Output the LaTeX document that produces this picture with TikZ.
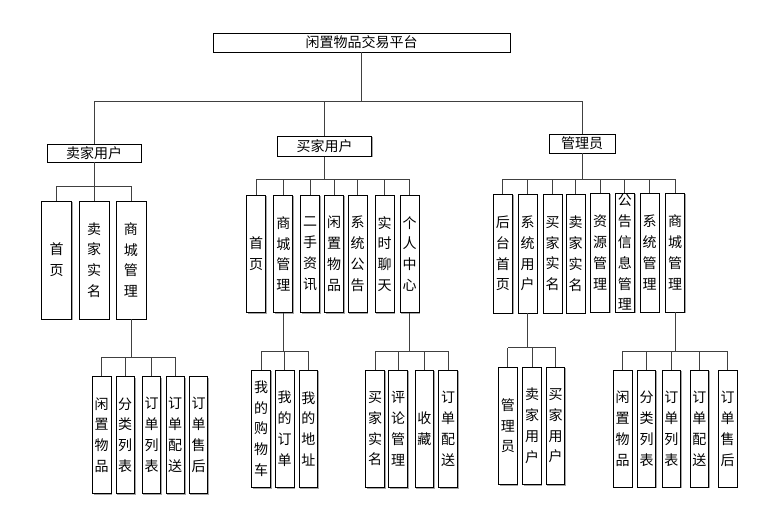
\documentclass[tikz,border=0pt]{standalone}
\usepackage{fontspec}
\setmainfont{Noto Sans CJK SC}
\usetikzlibrary{shadows}
\tikzset{
  box/.style={draw=black, line width=0.8pt, fill=white, inner sep=0pt,
    font=\fontsize{14}{20.8}\selectfont,
    drop shadow={shadow xshift=1.2pt, shadow yshift=-1.2pt, fill=gray!70, opacity=1}},
  vbox/.style={box, minimum width=19pt, minimum height=118pt, text width=14pt, align=center},
  wbox/.style={vbox, minimum width=30pt},
  link/.style={draw=black!75, line width=0.8pt}
}
\begin{document}
\begin{tikzpicture}[x=1pt, y=-1pt]
  \useasboundingbox (0,0) rectangle (766,510);
  % top level
  \node[box, minimum width=297pt, minimum height=19pt] (root) at (361.5,42.5) {闲置物品交易平台};
  \node[box, minimum width=94pt, minimum height=18pt] (seller) at (94,153) {卖家用户};
  \node[box, minimum width=94pt, minimum height=20pt] (buyer) at (324.5,146.3) {买家用户};
  \node[box, minimum width=66pt, minimum height=19pt] (admin) at (582,143.5) {管理员};
  \coordinate (topBus) at (361.5,101);
  \draw[link] (root) -- (topBus);
  \draw[link] (seller.north) |- (topBus);
  \draw[link] (admin.north) |- (topBus);
  \draw[link] (buyer.north) -- (buyer.north |- topBus);
  % seller modules
  \node[wbox] (sHome) at (56.7,260) {首\\页};
  \node[wbox] (sReal) at (94.2,260) {卖\\家\\实\\名};
  \node[wbox] (sMall) at (130.9,260) {商\\城\\管\\理};
  \coordinate (sBus) at (94,186.5);
  \draw[link] (seller) -- (sBus);
  \draw[link] (sHome.north |- sBus) -- (sMall.north |- sBus);
  \foreach \n in {sHome,sReal,sMall}
    \draw[link] (\n.north) -- (\n.north |- sBus);
  % seller mall
  \begin{scope}[every node/.style={vbox, minimum width=18.5pt, minimum height=116.6pt}]
    \node (smGoods) at (101.7,435) {闲\\置\\物\\品};
    \node (smType) at (125.2,435) {分\\类\\列\\表};
    \node (smOrder) at (151.5,435) {订\\单\\列\\表};
    \node (smShip) at (175.2,435) {订\\单\\配\\送};
    \node (smAfter) at (198.5,435) {订\\单\\售\\后};
  \end{scope}
  \coordinate (smBus) at (130.9,357.5);
  \draw[link] (sMall) -- (smBus);
  \draw[link] (smGoods.north |- smBus) -- (smShip.north |- smBus);
  \foreach \n in {smGoods,smType,smOrder,smShip}
    \draw[link] (\n.north) -- (\n.north |- smBus);
  % buyer modules
  \begin{scope}[every node/.style={vbox, minimum height=117.7pt}]
    \node (bHome) at (256.2,253.9) {首\\页};
    \node (bMall) at (283.3,253.9) {商\\城\\管\\理};
    \node (bNews) at (310.2,253.9) {二\\手\\资\\讯};
    \node (bGoods) at (334.2,253.9) {闲\\置\\物\\品};
    \node (bNotice) at (357.5,253.9) {系\\统\\公\\告};
    \node (bChat) at (384.5,253.9) {实\\时\\聊\\天};
    \node (bCenter) at (409.5,253.9) {个\\人\\中\\心};
  \end{scope}
  \coordinate (bBus) at (324.5,179.5);
  \draw[link] (buyer) -- (bBus);
  \draw[link] (bHome.north |- bBus) -- (bCenter.north |- bBus);
  \foreach \n in {bHome,bMall,bNews,bGoods,bNotice,bChat,bCenter}
    \draw[link] (\n.north) -- (\n.north |- bBus);
  % buyer mall and personal centre
  \begin{scope}[every node/.style={vbox, minimum width=18.7pt, minimum height=117.3pt}]
    \node (bmCart) at (261,428.7) {我\\的\\购\\物\\车};
    \node (bmOrder) at (284.7,428.7) {我\\的\\订\\单};
    \node (bmAddr) at (308.3,428.7) {我\\的\\地\\址};
    \node (bcReal) at (375,428.7) {买\\家\\实\\名};
    \node (bcReview) at (398.2,428.7) {评\\论\\管\\理};
    \node (bcFav) at (424.3,428.7) {收\\藏};
    \node (bcShip) at (448,428.7) {订\\单\\配\\送};
  \end{scope}
  \coordinate (bmBus) at (283.3,351);
  \draw[link] (bMall) -- (bmBus);
  \draw[link] (bmCart.north |- bmBus) -- (bmAddr.north |- bmBus);
  \foreach \n in {bmCart,bmOrder,bmAddr}
    \draw[link] (\n.north) -- (\n.north |- bmBus);
  \coordinate (bcBus) at (409.5,351);
  \draw[link] (bCenter) -- (bcBus);
  \draw[link] (bcReal.north |- bcBus) -- (bcShip.north |- bcBus);
  \foreach \n in {bcReal,bcReview,bcFav,bcShip}
    \draw[link] (\n.north) -- (\n.north |- bcBus);
  % admin modules
  \begin{scope}[every node/.style={vbox, minimum height=119pt}]
    \node (aHome) at (502.8,253.5) {后\\台\\首\\页};
    \node (aUser) at (527.5,253.5) {系\\统\\用\\户};
    \node (aBuyer) at (552.7,253.5) {买\\家\\实\\名};
    \node (aSeller) at (575.7,253.5) {卖\\家\\实\\名};
    \node (aRes) at (600,252.5) {资\\源\\管\\理};
    \node (aNotice) at (624.8,252.5) {公\\告\\信\\息\\管\\理};
    \node (aSys) at (649.5,252.5) {系\\统\\管\\理};
    \node (aMall) at (675.2,252.5) {商\\城\\管\\理};
  \end{scope}
  \coordinate (aBus) at (582,179.5);
  \draw[link] (admin) -- (aBus);
  \draw[link] (aHome.north |- aBus) -- (aMall.north |- aBus);
  \foreach \n in {aHome,aUser,aBuyer,aSeller,aRes,aNotice,aSys,aMall}
    \draw[link] (\n.north) -- (\n.north |- aBus);
  % admin users and mall
  \begin{scope}[every node/.style={vbox, minimum width=18.5pt, minimum height=117pt}]
    \node (auAdmin) at (507.8,425.8) {管\\理\\员};
    \node (auSeller) at (532,425.8) {卖\\家\\用\\户};
    \node (auBuyer) at (555.5,425.8) {买\\家\\用\\户};
    \node (amGoods) at (622.7,428.7) {闲\\置\\物\\品};
    \node (amType) at (646.5,428.7) {分\\类\\列\\表};
    \node (amOrder) at (671.3,428.7) {订\\单\\列\\表};
    \node (amShip) at (699.3,428.7) {订\\单\\配\\送};
    \node (amAfter) at (727.7,428.7) {订\\单\\售\\后};
  \end{scope}
  \coordinate (auBus) at (527.5,347.7);
  \draw[link] (aUser) -- (auBus);
  \draw[link] (auAdmin.north |- auBus) -- (auBuyer.north |- auBus);
  \foreach \n in {auAdmin,auSeller,auBuyer}
    \draw[link] (\n.north) -- (\n.north |- auBus);
  \coordinate (amBus) at (675.2,351);
  \draw[link] (aMall) -- (amBus);
  \draw[link] (amGoods.north |- amBus) -- (amAfter.north |- amBus);
  \foreach \n in {amGoods,amType,amOrder,amShip,amAfter}
    \draw[link] (\n.north) -- (\n.north |- amBus);
\end{tikzpicture}
\end{document}
